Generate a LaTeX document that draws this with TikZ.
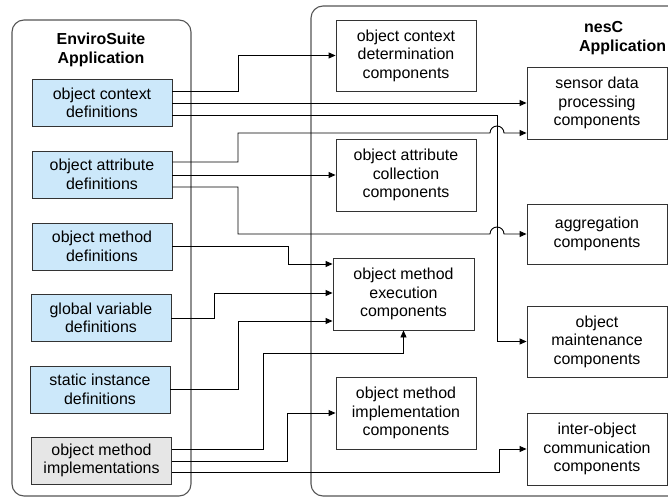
\documentclass[tikz,border=0pt]{standalone}
\usepackage{fontspec}
\setmainfont{Liberation Sans}
\usetikzlibrary{arrows.meta,calc}
\definecolor{defblue}{HTML}{CCE8FA}
\definecolor{implgray}{HTML}{E6E6E6}
\definecolor{edgegray}{HTML}{333333}
\definecolor{contgray}{HTML}{555555}
\tikzset{
  container/.style={draw=contgray,line width=1.1bp,rounded corners=12bp},
  lbox/.style={draw=edgegray,line width=0.9bp,fill=defblue,minimum width=140bp,minimum height=47bp,align=center,inner sep=0pt,font=\fontsize{16}{18.5}\selectfont},
  ibox/.style={lbox,fill=implgray},
  rbox/.style={draw=edgegray,line width=0.9bp,fill=white,minimum width=140bp,minimum height=72bp,align=center,inner sep=0pt,font=\fontsize{16}{18.5}\selectfont},
  ttl/.style={align=center,font=\bfseries\fontsize{16}{19}\selectfont,inner sep=0pt},
  conn/.style={draw=black,line width=0.9bp,-{Triangle[length=7bp,width=6bp]}}
}
\begin{document}
\begin{tikzpicture}[x=1bp,y=-1bp]
\clip (0,0) rectangle (668,498);
\useasboundingbox (0,0) rectangle (668,498);
% containers
\draw[container] (12,20) rectangle (191,496);
\draw[container] (311,6) rectangle (700,496);
\node[ttl] (tl) at (101,50) {EnviroSuite\\Application};
\node[ttl,align=left,anchor=west] (tr) at (579,38) {\hspace{5bp}nesC\\Application};
% left boxes
\node[lbox] (L1) at (102,103) {object context\\definitions};
\node[lbox] (L2) at (102,174.5) {object attribute\\definitions};
\node[lbox] (L3) at (102,246.5) {object method\\definitions};
\node[lbox] (L4) at (101,318) {global variable\\definitions};
\node[lbox] (L5) at (100,389.5) {static instance\\definitions};
\node[ibox] (L6) at (101.5,460.5) {object method\\implementations};
% right boxes
\node[rbox,minimum height=71bp] (A) at (406,55.5) {object context\\determination\\components};
\node[rbox] (C) at (597,103) {sensor data\\processing\\components};
\node[rbox] (D) at (406,175) {object attribute\\collection\\components};
\node[rbox,minimum height=60bp] (E) at (597,234) {aggregation\\components};
\node[rbox,minimum width=141bp] (F) at (403.5,294) {object method\\execution\\components};
\node[rbox,minimum height=71bp] (G) at (597,341.5) {object\\maintenance\\components};
\node[rbox] (H) at (406,413) {object method\\implementation\\components};
\node[rbox] (I) at (597,449) {inter-object\\communication\\components};
% connectors
\draw[conn] (L1.east |- 0,91) -- (238,91) |- (A.west);
\draw[conn] (L1.east |- C.west) -- (C.west);
\draw[conn] (L1.east |- 0,115) -- (497,115) |- (G.west);
\draw[conn] (L2.east |- 0,162) -- (238,162) |- (490,133) arc[start angle=180,end angle=0,radius=7bp] -- (C.west |- 0,133);
\draw[conn] (L2.east |- D.west) -- (D.west);
\draw[conn] (L2.east |- 0,187) -- (238,187) |- (490,234) arc[start angle=180,end angle=0,radius=7bp] -- (E.west);
\draw[conn] (L3.east |- 0,246) -- (288,246) |- (F.west |- 0,264);
\draw[conn] (L4.east |- 0,318) -- (214,318) |- (F.west |- 0,293);
\draw[conn] (L5.east |- 0,389) -- (238,389) |- (F.west |- 0,321);
\draw[conn] (L6.east |- 0,449) -- (263,449) |- (F.south |- 0,353) -- (F.south);
\draw[conn] (L6.east |- 0,461) -- (287,461) |- (H.west);
\draw[conn] (L6.east |- 0,472) -- (499,472) |- (I.west);
\end{tikzpicture}
\end{document}
